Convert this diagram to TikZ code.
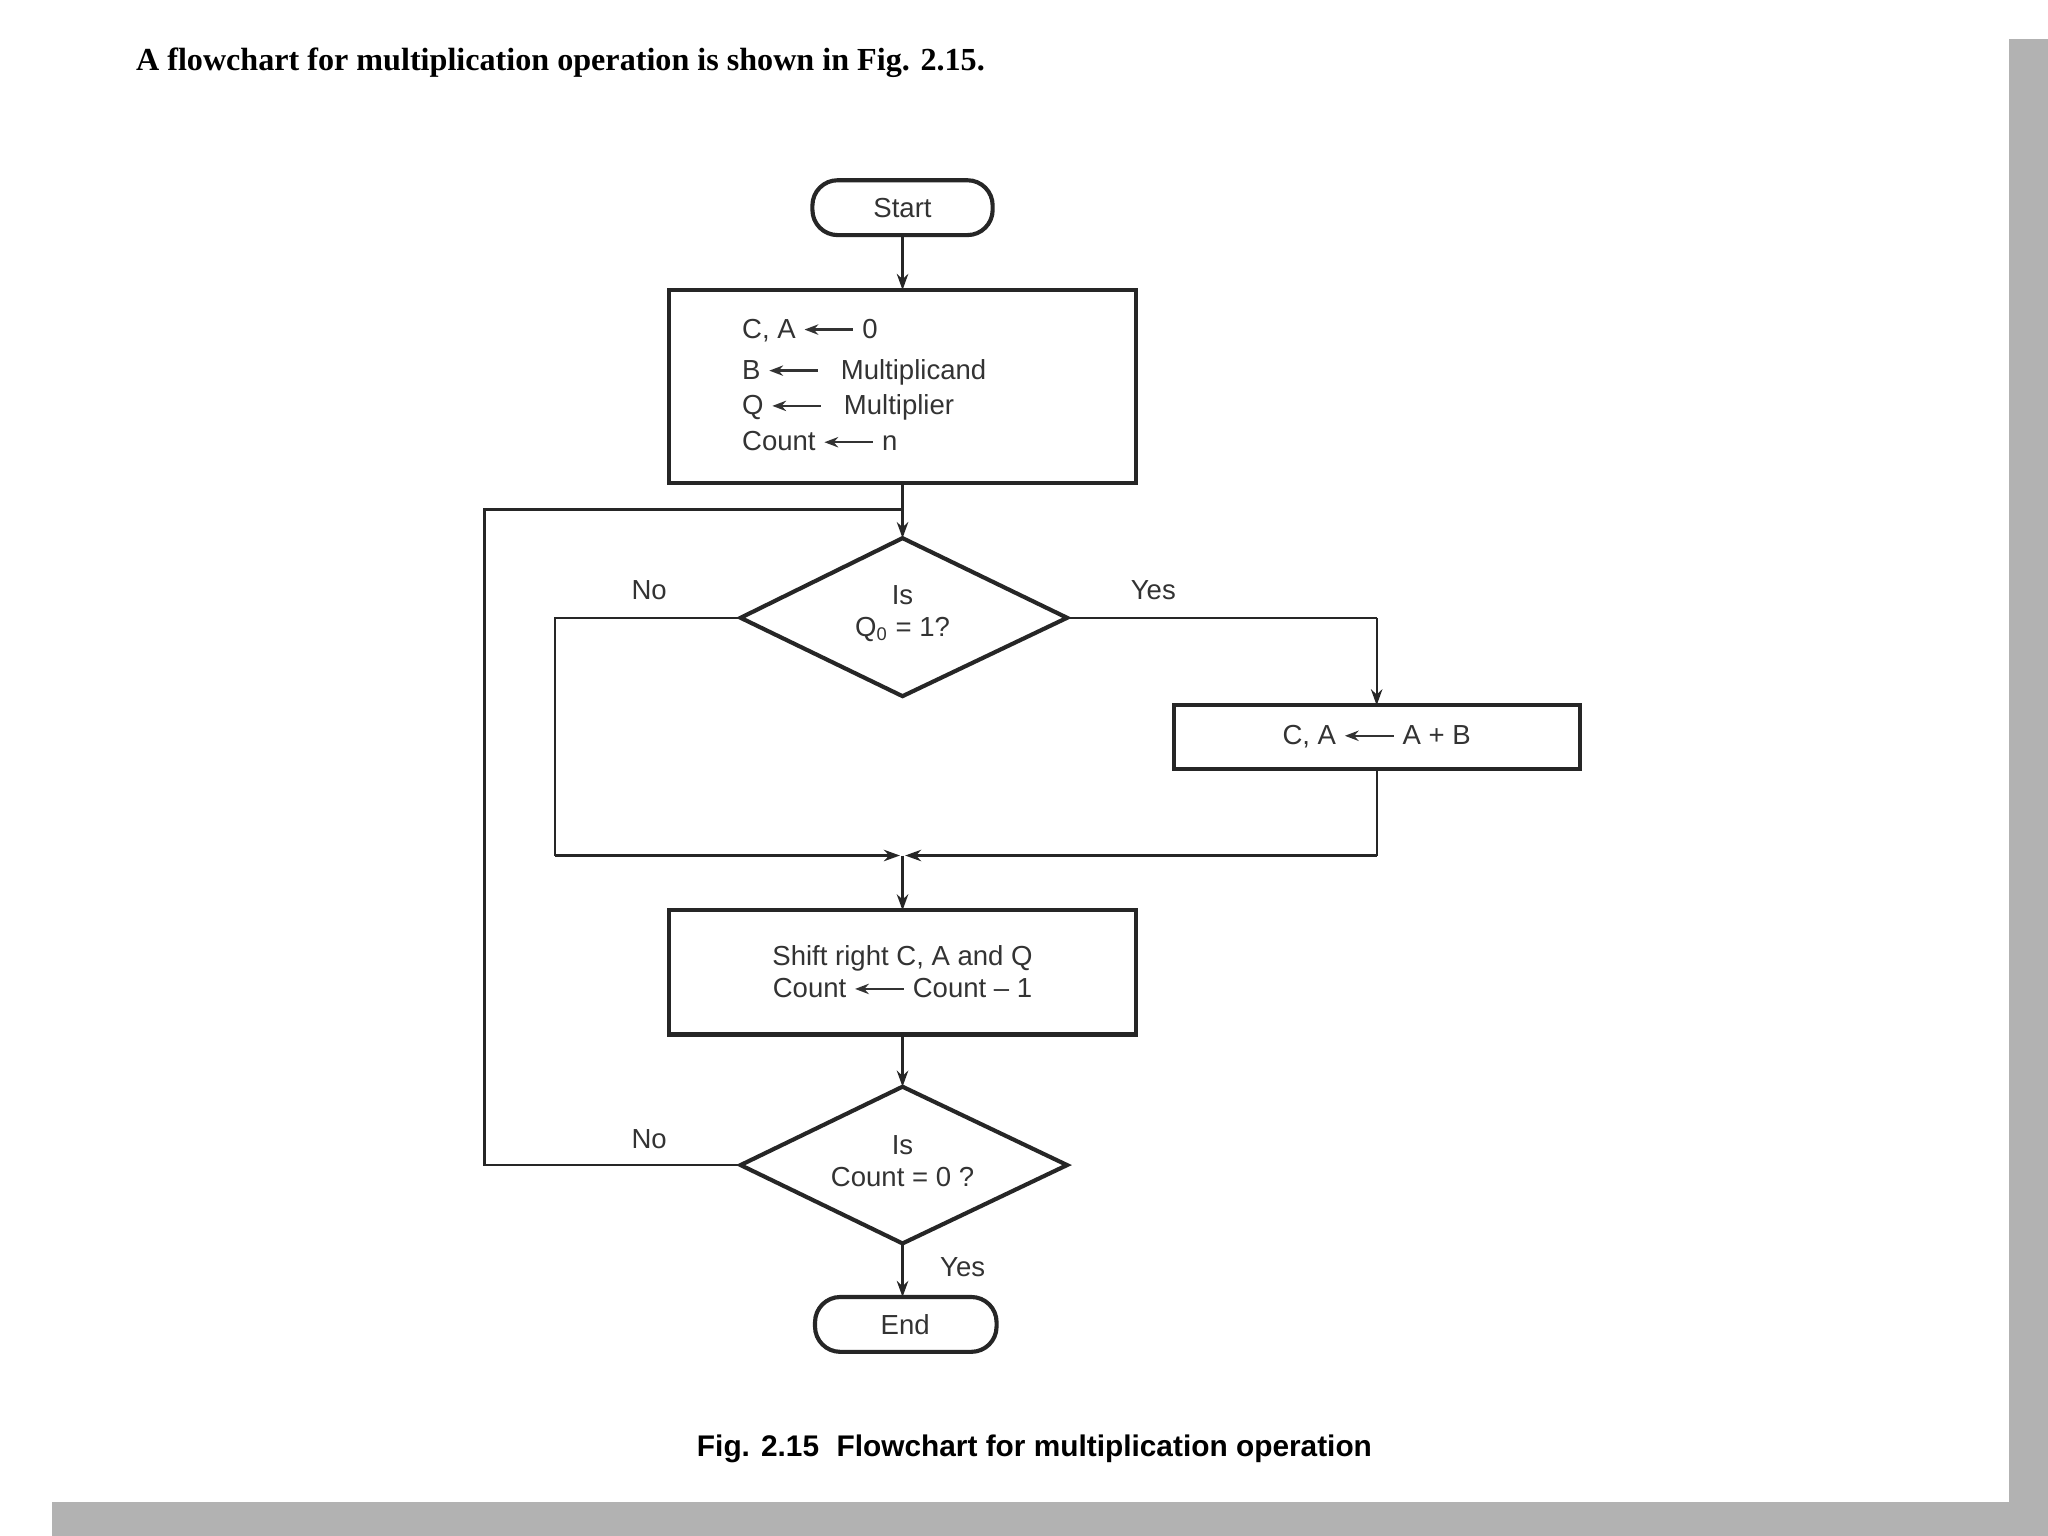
\documentclass[tikz,border=0pt]{standalone}
\usepackage{fontspec}
\setmainfont{Liberation Sans}
\newfontfamily\hdfont{Liberation Serif}
\usetikzlibrary{arrows.meta,shapes.geometric}
\newcommand{\lar}{\tikz[x=1cm,y=1cm,baseline=-0.6ex]\draw[line width=1pt,{Stealth[length=6pt,width=4.5pt]}-] (0,0) -- (0.75,0);}
\begin{document}
\begin{tikzpicture}[x=0.02cm,y=-0.02cm,
  ln/.style={line width=1pt,black!85},
  arr/.style={ln,-{Stealth[length=7pt,width=5pt]}},
  box/.style={draw,line width=1.8pt,black!85},
  lbl/.style={font=\fontsize{12}{14}\selectfont,text=black!80}]
\useasboundingbox (0,0) rectangle (1568,1176);
\fill[white] (0,0) rectangle (1568,1176);
\fill[black!30] (1538,30) rectangle (1568,1176);
\fill[black!30] (40,1150) rectangle (1568,1176);
\node[anchor=west,font=\hdfont\bfseries\fontsize{14}{16}\selectfont] (title) at (98,48) {A flowchart for multiplication operation is shown in Fig. 2.15.};
% nodes
\draw[box,rounded corners=11pt] (622,138) rectangle (760,180);
\node[lbl] (start) at (691,159) {Start};
\draw[box] (512,222) rectangle (870,370);
\node[lbl,anchor=west] (i1) at (562,253) {C, A \lar\ 0};
\node[lbl,anchor=west] (i2) at (562,285) {B \lar\ \hspace{6pt}Multiplicand};
\node[lbl,anchor=west] (i3) at (562,312) {Q \lar\ \hspace{6pt}Multiplier};
\node[lbl,anchor=west] (i4) at (562,338) {Count \lar\ n};
\draw[box] (691,412) -- (817,473) -- (691,533) -- (567,473) -- cycle;
\node[lbl,align=center] (d1) at (691,470) {Is\\Q\textsubscript{0} = 1?};
\draw[box] (899,540) rectangle (1210,589);
\node[lbl] (add) at (1054,564) {C, A \lar\ A + B};
\draw[box] (512,697) rectangle (870,792);
\node[lbl,align=center] (sh) at (691,744) {Shift right C, A and Q\\Count \lar\ Count -- 1};
\draw[box] (691,832) -- (817,892) -- (691,952) -- (567,892) -- cycle;
\node[lbl,align=center] (d2) at (691,889) {Is\\Count = 0 ?};
\draw[box,rounded corners=11pt] (624,993) rectangle (763,1035);
\node[lbl] (end) at (693,1014) {End};
% connectors
\coordinate (sb) at (691,180); \coordinate (it) at (691,222);
\draw[arr] (sb) -- (it);
\coordinate (ib) at (691,370); \coordinate (d1t) at (691,412);
\draw[arr] (ib) -- (d1t);
\draw[ln] (817,473) -- (1054,473);
\coordinate (ytop) at (1054,473); \coordinate (at) at (1054,540);
\draw[arr] (ytop) -- (at);
\draw[ln] (567,473) -- (425,473) -- (425,655);
\coordinate (nl) at (425,655); \coordinate (mj) at (689,655);
\draw[arr] (nl) -- (mj);
\draw[ln] (1054,589) -- (1054,655);
\coordinate (nr) at (1054,655); \coordinate (mj2) at (693,655);
\draw[arr] (nr) -- (mj2);
\coordinate (mjc) at (691,655); \coordinate (st) at (691,697);
\draw[arr] (mjc) -- (st);
\coordinate (sb2) at (691,792); \coordinate (d2t) at (691,832);
\draw[arr] (sb2) -- (d2t);
\draw[ln] (567,892) -- (371,892) -- (371,390) -- (691,390);
\coordinate (d2b) at (691,952); \coordinate (et) at (691,993);
\draw[arr] (d2b) -- (et);
\node[lbl] (no1) at (497,452) {No};
\node[lbl] (yes1) at (883,452) {Yes};
\node[lbl] (no2) at (497,872) {No};
\node[lbl] (yes2) at (737,970) {Yes};
\node[font=\bfseries\fontsize{13}{15}\selectfont] (cap) at (792,1109) {Fig. 2.15\hspace{4pt} Flowchart for multiplication operation};
\end{tikzpicture}
\end{document}
